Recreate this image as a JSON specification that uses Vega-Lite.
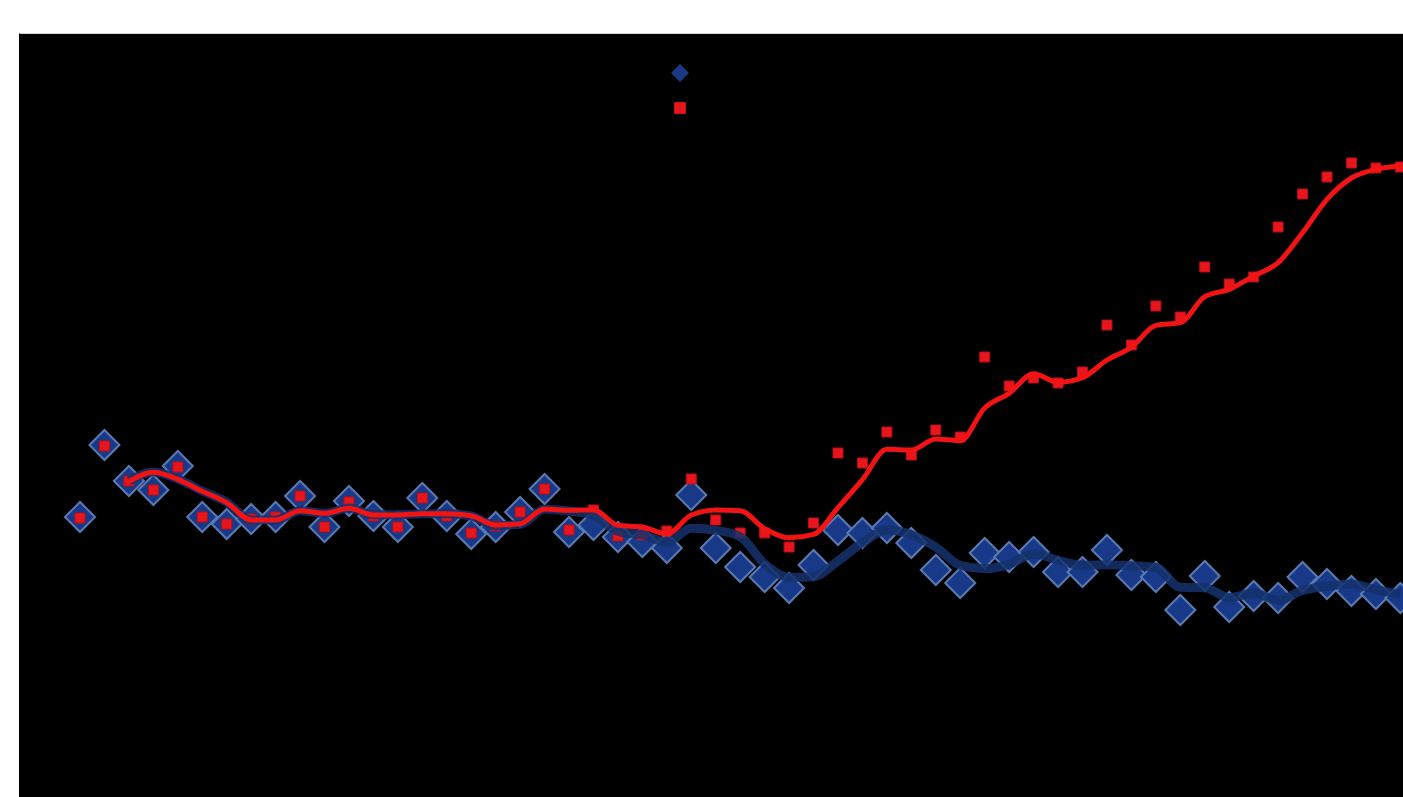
{
  "$schema": "https://vega.github.io/schema/vega-lite/v6.json",
  "width": 1420,
  "height": 764,
  "autosize": {"type": "none"},
  "padding": {"left": 19, "top": 33, "right": 0, "bottom": 0},
  "background": "white",
  "config": {"view": {"fill": "black", "stroke": null}},
  "data": {"values": [
    {"i":1,"series":"Series 1","v":280},{"i":2,"series":"Series 1","v":352},{"i":3,"series":"Series 1","v":316},{"i":4,"series":"Series 1","v":307},{"i":5,"series":"Series 1","v":331},
    {"i":6,"series":"Series 1","v":280},{"i":7,"series":"Series 1","v":273},{"i":8,"series":"Series 1","v":278},{"i":9,"series":"Series 1","v":280},{"i":10,"series":"Series 1","v":301},
    {"i":11,"series":"Series 1","v":270},{"i":12,"series":"Series 1","v":296},{"i":13,"series":"Series 1","v":281},{"i":14,"series":"Series 1","v":270},{"i":15,"series":"Series 1","v":299},
    {"i":16,"series":"Series 1","v":281},{"i":17,"series":"Series 1","v":263},{"i":18,"series":"Series 1","v":270},{"i":19,"series":"Series 1","v":285},{"i":20,"series":"Series 1","v":308},
    {"i":21,"series":"Series 1","v":265},{"i":22,"series":"Series 1","v":272},{"i":23,"series":"Series 1","v":260},{"i":24,"series":"Series 1","v":255},{"i":25,"series":"Series 1","v":249},
    {"i":26,"series":"Series 1","v":302},{"i":27,"series":"Series 1","v":249},{"i":28,"series":"Series 1","v":230},{"i":29,"series":"Series 1","v":220},{"i":30,"series":"Series 1","v":209},
    {"i":31,"series":"Series 1","v":232},{"i":32,"series":"Series 1","v":267},{"i":33,"series":"Series 1","v":264},{"i":34,"series":"Series 1","v":269},{"i":35,"series":"Series 1","v":254},
    {"i":36,"series":"Series 1","v":227},{"i":37,"series":"Series 1","v":214},{"i":38,"series":"Series 1","v":244},{"i":39,"series":"Series 1","v":240},{"i":40,"series":"Series 1","v":245},
    {"i":41,"series":"Series 1","v":225},{"i":42,"series":"Series 1","v":225},{"i":43,"series":"Series 1","v":247},{"i":44,"series":"Series 1","v":222},{"i":45,"series":"Series 1","v":220},
    {"i":46,"series":"Series 1","v":187},{"i":47,"series":"Series 1","v":221},{"i":48,"series":"Series 1","v":190},{"i":49,"series":"Series 1","v":201},{"i":50,"series":"Series 1","v":199},
    {"i":51,"series":"Series 1","v":220},{"i":52,"series":"Series 1","v":213},{"i":53,"series":"Series 1","v":206},{"i":54,"series":"Series 1","v":203},{"i":55,"series":"Series 1","v":199},
    {"i":1,"series":"Series 2","v":279},{"i":2,"series":"Series 2","v":351},{"i":3,"series":"Series 2","v":316},{"i":4,"series":"Series 2","v":307},{"i":5,"series":"Series 2","v":330},
    {"i":6,"series":"Series 2","v":280},{"i":7,"series":"Series 2","v":273},{"i":8,"series":"Series 2","v":278},{"i":9,"series":"Series 2","v":280},{"i":10,"series":"Series 2","v":301},
    {"i":11,"series":"Series 2","v":270},{"i":12,"series":"Series 2","v":295},{"i":13,"series":"Series 2","v":281},{"i":14,"series":"Series 2","v":270},{"i":15,"series":"Series 2","v":299},
    {"i":16,"series":"Series 2","v":281},{"i":17,"series":"Series 2","v":264},{"i":18,"series":"Series 2","v":271},{"i":19,"series":"Series 2","v":285},{"i":20,"series":"Series 2","v":308},
    {"i":21,"series":"Series 2","v":267},{"i":22,"series":"Series 2","v":287},{"i":23,"series":"Series 2","v":261},{"i":24,"series":"Series 2","v":262},{"i":25,"series":"Series 2","v":266},
    {"i":26,"series":"Series 2","v":318},{"i":27,"series":"Series 2","v":277},{"i":28,"series":"Series 2","v":264},{"i":29,"series":"Series 2","v":264},{"i":30,"series":"Series 2","v":250},
    {"i":31,"series":"Series 2","v":274},{"i":32,"series":"Series 2","v":344},{"i":33,"series":"Series 2","v":334},{"i":34,"series":"Series 2","v":365},{"i":35,"series":"Series 2","v":342},
    {"i":36,"series":"Series 2","v":367},{"i":37,"series":"Series 2","v":360},{"i":38,"series":"Series 2","v":440},{"i":39,"series":"Series 2","v":411},{"i":40,"series":"Series 2","v":419},
    {"i":41,"series":"Series 2","v":414},{"i":42,"series":"Series 2","v":425},{"i":43,"series":"Series 2","v":472},{"i":44,"series":"Series 2","v":452},{"i":45,"series":"Series 2","v":491},
    {"i":46,"series":"Series 2","v":480},{"i":47,"series":"Series 2","v":530},{"i":48,"series":"Series 2","v":513},{"i":49,"series":"Series 2","v":520},{"i":50,"series":"Series 2","v":570},
    {"i":51,"series":"Series 2","v":603},{"i":52,"series":"Series 2","v":620},{"i":53,"series":"Series 2","v":634},{"i":54,"series":"Series 2","v":629},{"i":55,"series":"Series 2","v":630}
  ]},
  "encoding": {
    "x": {"field": "i", "type": "quantitative", "scale": {"domain": [-1.495, 56.58], "nice": false, "zero": false},
          "axis": {"orient": "top", "labels": false, "ticks": false, "grid": false, "title": null, "domainColor": "#d4d4d4", "domainWidth": 1}},
    "y": {"field": "v", "type": "quantitative", "scale": {"domain": [0, 764], "nice": false, "zero": false}, "axis": null}
  },
  "layer": [
    {
      "transform": [{"filter": "datum.series === 'Series 1'"}],
      "mark": {"type": "point", "filled": true, "opacity": 1, "strokeWidth": 2, "size": 532, "stroke": "#5a7ab2"},
      "encoding": {
        "color": {"field": "series", "type": "nominal",
                 "scale": {"domain": ["Series 1", "Series 2"], "range": ["#183888", "#e8161c"]},
                 "legend": {"title": null, "orient": "none", "legendX": 654, "legendY": 33, "padding": 0, "rowPadding": 19,
                            "labelColor": "black", "labelFontSize": 12, "symbolSize": 190, "symbolStrokeWidth": 0}},
        "shape": {"field": "series", "type": "nominal",
                  "scale": {"domain": ["Series 1", "Series 2"], "range": ["M-1.3,0L0,-1.3L1.3,0L0,1.3Z", "M-0.85,-0.85L0.85,-0.85L0.85,0.85L-0.85,0.85Z"]}}
      }
    },
    {
      "transform": [{"filter": "datum.series === 'Series 2'"}],
      "mark": {"type": "point", "filled": true, "opacity": 1, "strokeWidth": 1, "size": 138, "stroke": "#b81014"},
      "encoding": {
        "color": {"field": "series", "type": "nominal"},
        "shape": {"field": "series", "type": "nominal"}
      }
    },
    {
      "transform": [
        {"filter": "datum.series === 'Series 1'"},
        {"window": [{"op": "mean", "field": "v", "as": "ma"}, {"op": "count", "as": "n"}], "frame": [-2, 0], "sort": [{"field": "i"}], "groupby": ["series"]},
        {"filter": "datum.n === 3"}
      ],
      "mark": {"type": "line", "color": "#15316c", "strokeWidth": 9, "opacity": 0.85, "interpolate": "monotone"},
      "encoding": {
        "y": {"field": "ma", "type": "quantitative"}
      }
    },
    {
      "transform": [
        {"filter": "datum.series === 'Series 2'"},
        {"window": [{"op": "mean", "field": "v", "as": "ma"}, {"op": "count", "as": "n"}], "frame": [-2, 0], "sort": [{"field": "i"}], "groupby": ["series"]},
        {"filter": "datum.n === 3"}
      ],
      "mark": {"type": "line", "color": "#f21414", "strokeWidth": 5, "interpolate": "monotone"},
      "encoding": {
        "y": {"field": "ma", "type": "quantitative"}
      }
    }
  ]
}
